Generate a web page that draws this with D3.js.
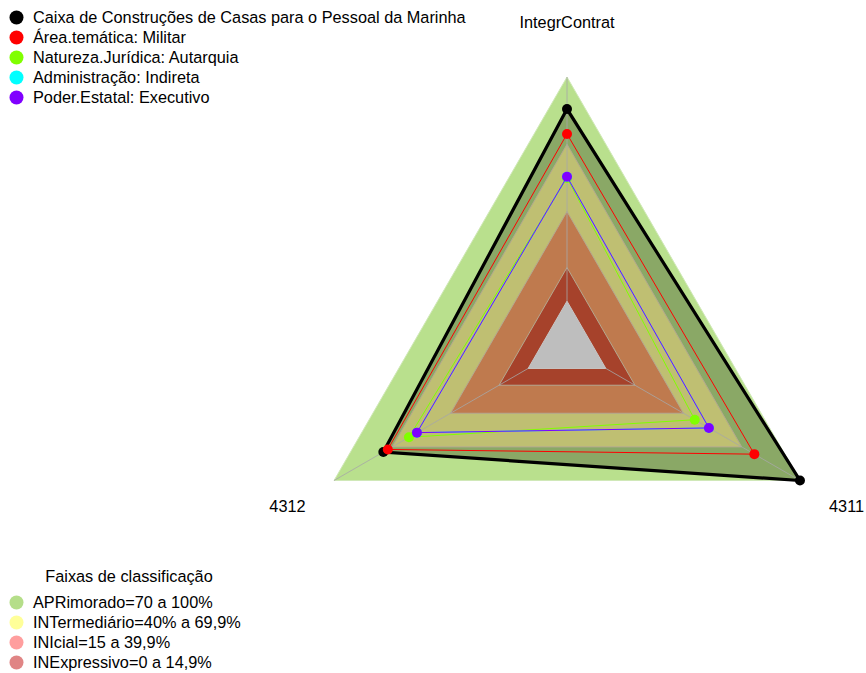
<!DOCTYPE html>
<meta charset="utf-8">
<style>
body { margin: 0; font-family: "Liberation Sans", Arial, sans-serif; background: #fff; }
text { fill: #000; }
</style>
<body>
<svg id="radar" width="866" height="673"></svg>
<script src="https://d3js.org/d3.v7.min.js"></script>
<script>

// axes, counterclockwise from the top
var axes = ["IntegrContrat", "4312", "4311"];

// series values, same order as axes
var seriesNames = ["Caixa de Construções de Casas para o Pessoal da Marinha",
                   "Área.temática: Militar",
                   "Natureza.Jurídica: Autarquia",
                   "Administração: Indireta",
                   "Poder.Estatal: Executivo"];
var seriesColors = ["#000000", "#ff0000", "#80ff00", "#00ffff", "#8000ff"];
var caixa     = [85.7, 74.6, 100];
var militar   = [74.6, 72.3, 76.5];
var autarquia = [55.0, 61.4, 45.8];
var indireta  = [55.5, 57.3, 53.1];
var executivo = [55.5, 57.3, 53.1];
var seriesValues = [caixa, militar, autarquia, indireta, executivo];

// classification bands
var bandNames = ["APRimorado=70 a 100%", "INTermediário=40% a 69,9%", "INIcial=15 a 39,9%", "INExpressivo=0 a 14,9%"];
var bandTops = [100, 70, 40, 15];
var bandFills = ["#b9e08d", "#bfbf72", "#bf7a4e", "#a6422b"];
var bandLegendColors = ["#b5de89", "#ffff99", "#ff9e9e", "#e08585"];
var axisMin = -20, axisMax = 100;

var svg = d3.select("#radar"),
    cx = 567, cy = 346, R = 269,
    fs = 16.3;

var r = d3.scaleLinear().domain([axisMin, axisMax]).range([0, R]);

function angle(i) { return Math.PI / 2 + i * 2 * Math.PI / axes.length; }
function pt(v, i) { return [cx + r(v) * Math.cos(angle(i)), cy - r(v) * Math.sin(angle(i))]; }
function ring(v) { return axes.map(function(a, i) { return pt(v, i); }); }

var line = d3.line().curve(d3.curveLinearClosed);

var g = svg.append("g");

// outer band
g.append("path").attr("d", line(ring(bandTops[0]))).attr("fill", bandFills[0]).attr("stroke", "#d0e8b8");

// main series fill (darkens the top band)
g.append("path").attr("d", line(caixa.map(pt))).attr("fill", "#8aa866");

// inner bands
bandTops.slice(1).forEach(function(b, k) {
  g.append("path").attr("d", line(ring(b)))
    .attr("fill", bandFills[k + 1]).attr("stroke", "#b4a890").attr("stroke-width", 1);
});

// axis spokes, from the zero ring outwards
axes.forEach(function(a, i) {
  var p0 = pt(0, i), p = pt(axisMax, i);
  g.append("line").attr("x1", p0[0]).attr("y1", p0[1]).attr("x2", p[0]).attr("y2", p[1])
    .attr("stroke", "#a8a8a8").attr("stroke-width", 1).attr("opacity", 0.8);
});
g.append("path").attr("d", line(ring(0))).attr("fill", "#bebebe").attr("stroke", "#c8c8c8");

// series lines and points
seriesValues.forEach(function(vals, s) {
  var pts = vals.map(pt);
  g.append("path").attr("d", line(pts)).attr("fill", "none")
    .attr("stroke", seriesColors[s]).attr("stroke-width", s === 0 ? 3.2 : 1);
  g.selectAll(null).data(pts).enter().append("circle")
    .attr("cx", function(d) { return d[0]; }).attr("cy", function(d) { return d[1]; })
    .attr("r", 5).attr("fill", seriesColors[s]);
});

// axis labels
axes.forEach(function(a, i) {
  var p = pt(axisMin + (axisMax - axisMin) * 1.2, i);
  svg.append("text").attr("x", p[0]).attr("y", p[1] + 5)
    .attr("text-anchor", "middle").attr("font-size", fs).text(a);
});

// series legend
var leg = svg.append("g");
seriesNames.forEach(function(n, i) {
  leg.append("circle").attr("cx", 16.5).attr("cy", 17.5 + 20 * i).attr("r", 7).attr("fill", seriesColors[i]);
  leg.append("text").attr("x", 33).attr("y", 23 + 20 * i).attr("font-size", fs).text(n);
});

// band legend
var leg2 = svg.append("g");
leg2.append("text").attr("x", 129).attr("y", 582).attr("text-anchor", "middle")
  .attr("font-size", fs).text("Faixas de classificação");
bandNames.forEach(function(n, i) {
  leg2.append("circle").attr("cx", 16.5).attr("cy", 602.5 + 20 * i).attr("r", 7).attr("fill", bandLegendColors[i]);
  leg2.append("text").attr("x", 33).attr("y", 608 + 20 * i).attr("font-size", fs).text(n);
});

</script>
</body>
